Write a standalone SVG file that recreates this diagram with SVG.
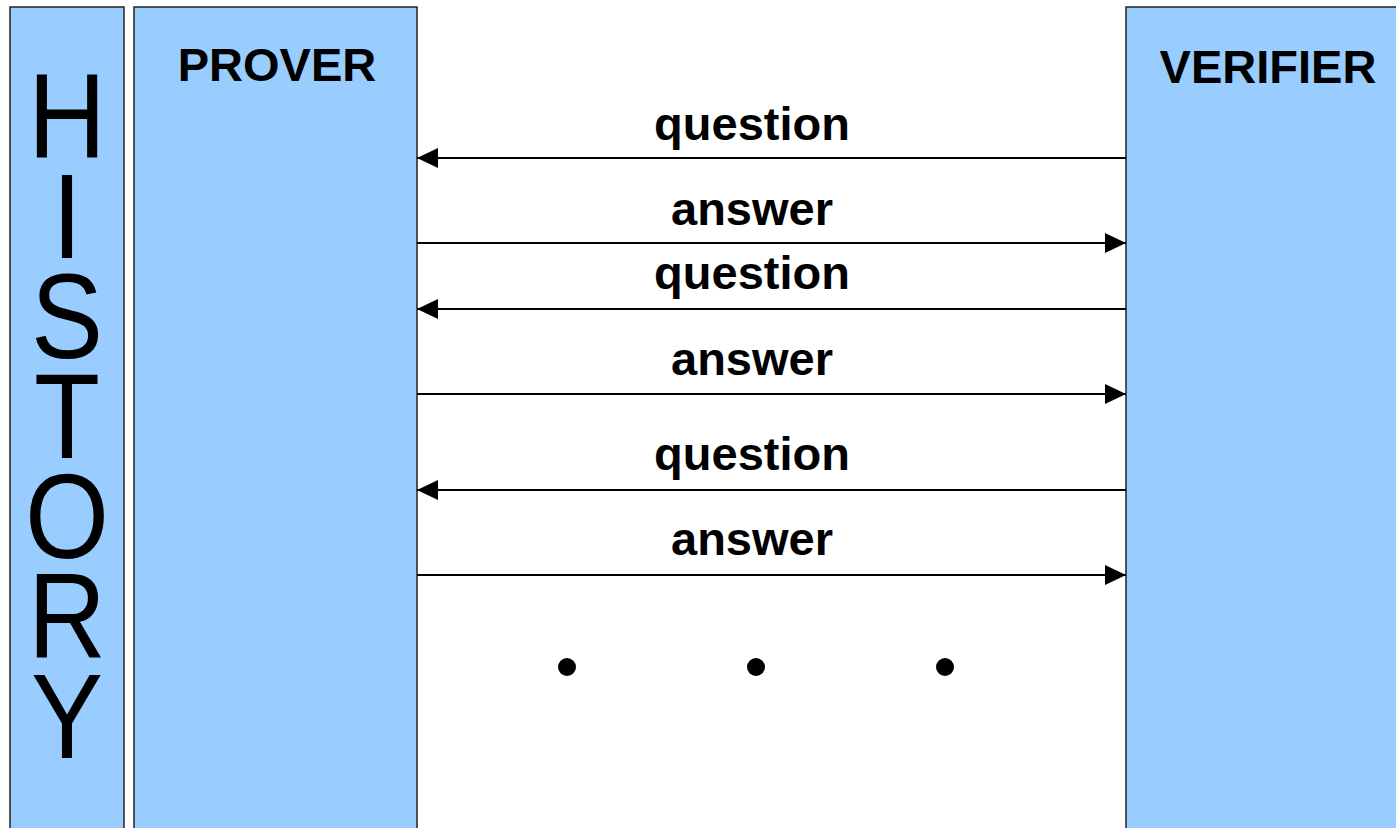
<svg xmlns="http://www.w3.org/2000/svg" width="1396" height="828" viewBox="0 0 1396 828">
<style>
.box{fill:#99CCFF;stroke:#222;stroke-width:1.5}
.title{font-family:"Liberation Sans",Arial,sans-serif;font-weight:bold;font-size:47px;fill:#000;text-anchor:middle}
.hist{font-family:"Liberation Sans",Arial,sans-serif;font-size:120px;fill:#000;text-anchor:middle}
.lbl{font-family:"Liberation Sans",Arial,sans-serif;font-weight:bold;font-size:47px;fill:#000;text-anchor:middle}
.msg{stroke:#000;stroke-width:2;fill:none;marker-end:url(#ah)}
</style>
<defs>
<marker id="ah" viewBox="0 0 21 20" refX="21" refY="10" markerWidth="21" markerHeight="20" markerUnits="userSpaceOnUse" orient="auto">
<path d="M0,0 L21,10 L0,20 Z" fill="#000"/>
</marker>
</defs>
<rect width="1396" height="828" fill="#fff"/>
<g id="history">
<rect class="box" x="10" y="7" width="114" height="830"/>
<g transform="translate(67,0) scale(0.9,1)">
<text class="hist" x="0" y="158">H</text>
<text class="hist" x="0" y="258">I</text>
<text class="hist" x="0" y="358">S</text>
<text class="hist" x="0" y="458">T</text>
<text class="hist" x="0" y="558">O</text>
<text class="hist" x="0" y="658">R</text>
<text class="hist" x="0" y="758">Y</text>
</g>
</g>
<g id="prover">
<rect class="box" x="134" y="7" width="283" height="830"/>
<text class="title" x="277" y="81">PROVER</text>
</g>
<g id="verifier">
<rect class="box" x="1126" y="7" width="280" height="830"/>
<text class="title" x="1268" y="83">VERIFIER</text>
</g>
<g id="connectors">
<line class="msg" x1="1126" y1="158" x2="417" y2="158"/>
<line class="msg" x1="417" y1="243" x2="1126" y2="243"/>
<line class="msg" x1="1126" y1="309" x2="417" y2="309"/>
<line class="msg" x1="417" y1="394" x2="1126" y2="394"/>
<line class="msg" x1="1126" y1="490" x2="417" y2="490"/>
<line class="msg" x1="417" y1="575" x2="1126" y2="575"/>
<text class="lbl" x="752" y="140">question</text>
<text class="lbl" x="752" y="225">answer</text>
<text class="lbl" x="752" y="289">question</text>
<text class="lbl" x="752" y="375">answer</text>
<text class="lbl" x="752" y="470">question</text>
<text class="lbl" x="752" y="555">answer</text>
</g>
<g id="dots">
<circle cx="567" cy="667" r="9" fill="#000"/>
<circle cx="756" cy="667" r="9" fill="#000"/>
<circle cx="945" cy="667" r="9" fill="#000"/>
</g>
</svg>
